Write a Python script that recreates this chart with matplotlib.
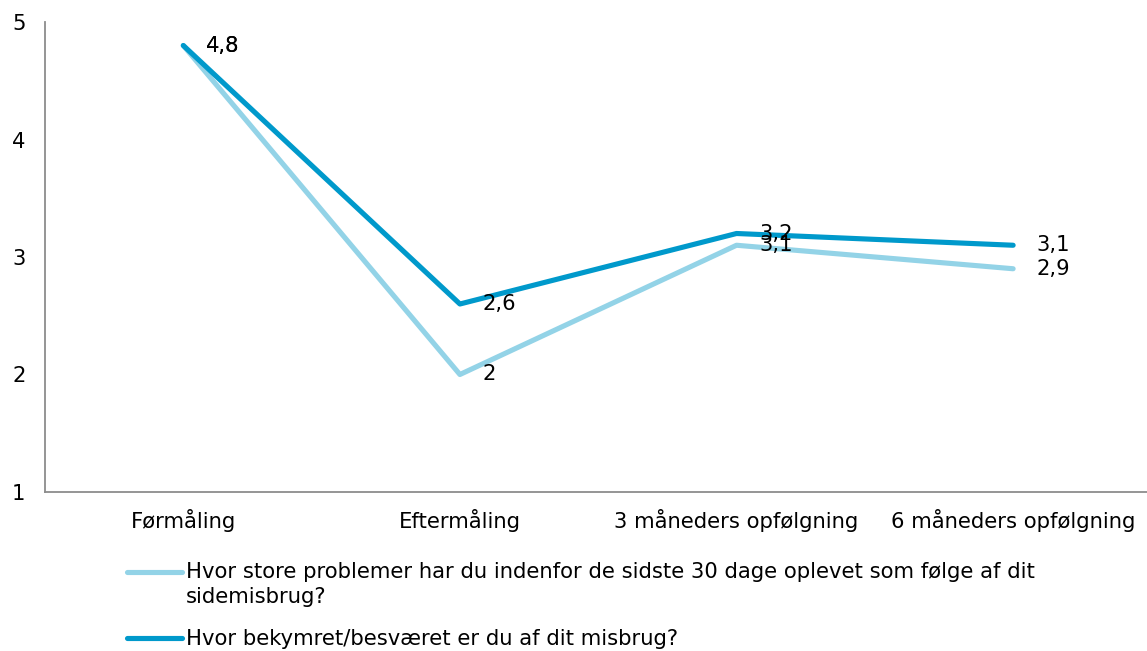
import matplotlib.pyplot as plt
from matplotlib.lines import Line2D

# data
categories = ['Førmåling', 'Eftermåling', '3 måneders opfølgning', '6 måneders opfølgning']
problemer = [4.8, 2.0, 3.1, 2.9]
bekymret = [4.8, 2.6, 3.2, 3.1]
label_problemer = 'Hvor store problemer har du indenfor de sidste 30 dage oplevet som følge af dit\nsidemisbrug?'
label_bekymret = 'Hvor bekymret/besværet er du af dit misbrug?'

light = '#93D3E7'
dark = '#0099CB'

W, H = 1147, 651

plt.rcParams['font.family'] = 'DejaVu Sans'
plt.rcParams['font.size'] = 15.2

fig = plt.figure(figsize=(W / 100, H / 100), dpi=100)
ax = fig.add_axes([45 / W, 159 / H, 1102 / W, 470 / H])

x = range(len(categories))
ax.plot(x, problemer, color=light, lw=3.7, solid_capstyle='round')
ax.plot(x, bekymret, color=dark, lw=3.7, solid_capstyle='round')

def fmt(v):
    return f'{v:g}'.replace('.', ',')

for series in (problemer, bekymret):
    for xi, v in zip(x, series):
        ax.annotate(fmt(v), (xi, v), xytext=(16.5, 0), textcoords='offset points',
                    va='center', ha='left', color='black')

ax.set_xlim(-0.5, 3.484)
ax.set_ylim(1, 5)
ax.set_yticks([1, 2, 3, 4, 5])
ax.set_xticks(list(x))
ax.set_xticklabels(categories)
ax.tick_params(axis='both', length=0)
ax.tick_params(axis='y', pad=14)
ax.tick_params(axis='x', pad=12)

for s in ['top', 'right']:
    ax.spines[s].set_visible(False)
for s in ['left', 'bottom']:
    ax.spines[s].set_color('#8C8C8C')
    ax.spines[s].set_linewidth(1.3)

# legend below the plot, drawn by hand so the key sits on the first text line
def px(xp, yp):
    return xp / W, 1 - yp / H

entries = [(light, label_problemer, 572, 578), (dark, label_bekymret, 638, 645)]
for color, label, y_line, y_base in entries:
    x0, y0 = px(127, y_line)
    x1, _ = px(182, y_line)
    fig.add_artist(Line2D([x0, x1], [y0, y0], transform=fig.transFigure,
                          color=color, lw=3.7, solid_capstyle='round'))
    for i, line in enumerate(label.split('\n')):
        tx, ty = px(186, y_base + 25 * i)
        fig.text(tx, ty, line, ha='left', va='baseline')

fig.savefig('out.png', dpi=100)
